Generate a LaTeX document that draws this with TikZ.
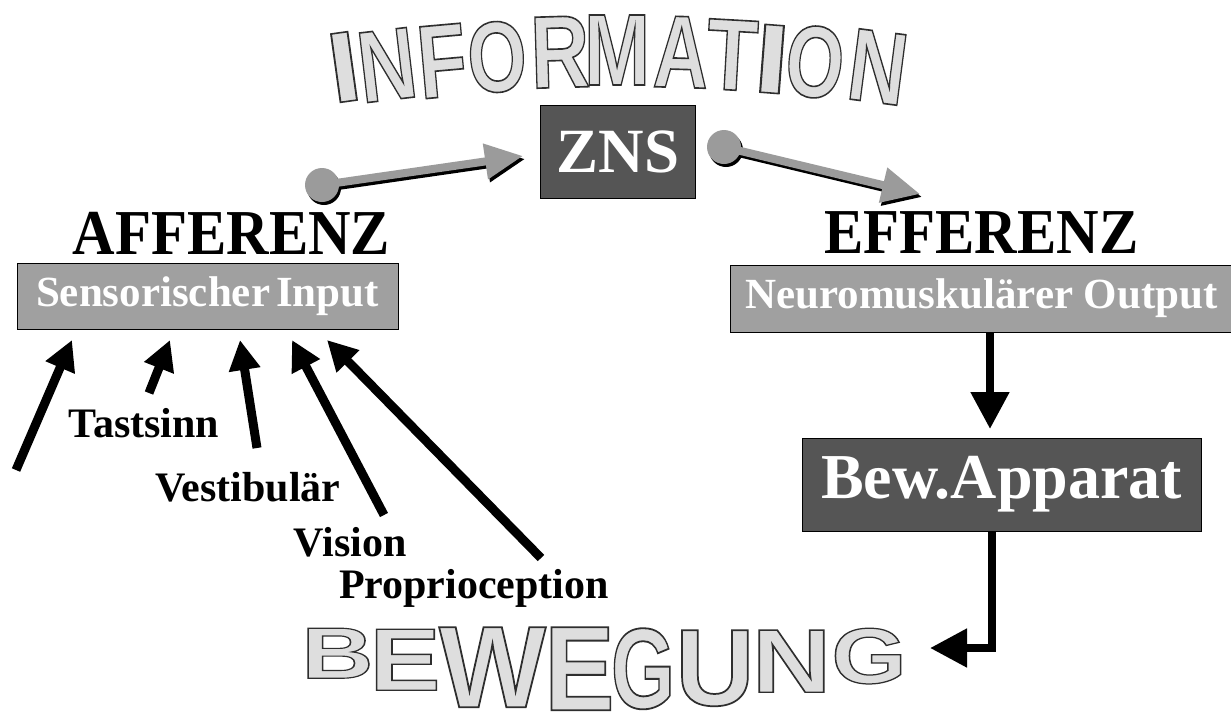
\documentclass[tikz,border=0pt]{standalone}
\usepackage{fontspec}
\setmainfont{Liberation Serif}
\setsansfont{Liberation Sans}
\usetikzlibrary{arrows.meta}
\definecolor{wafill}{RGB}{222,222,222}
\definecolor{boxgray}{RGB}{160,160,160}
\definecolor{darkbg}{RGB}{85,85,85}
\definecolor{arrowgray}{RGB}{155,155,155}
% outlined letter: light fill, dark stroke (PDF text render mode 2)
\newcommand\walet[3]{\resizebox{#2pt}{#3pt}{\color{wafill}\special{pdf:literal direct 0.18 G 1.5 w 2 Tr}#1\special{pdf:literal direct 0 Tr}}}
\tikzset{
  blk/.style={line width=9pt, -{Triangle[length=30pt,width=30pt]}},
  blkbig/.style={line width=8pt, -{Triangle[length=37pt,width=37pt]}},
  garrow/.style={line width=8pt, draw=arrowgray, -{Triangle[length=38pt,width=34pt]}},
  gshadow/.style={line width=8pt, draw=black, -{Triangle[length=38pt,width=34pt]}},
  ball/.style={circle, fill=arrowgray, minimum size=34pt, inner sep=0pt},
  ballshadow/.style={circle, fill=black, minimum size=34pt, inner sep=0pt},
  greybox/.style={draw=black, line width=0.8pt, fill=boxgray, text=white, font=\fontsize{43}{43}\selectfont\bfseries, inner sep=0pt},
  darkbox/.style={draw=black, line width=0.8pt, fill=darkbg, text=white, inner sep=0pt},
  lbl/.style={font=\fontsize{42}{42}\selectfont\bfseries, inner sep=0pt},
  ttl/.style={font=\fontsize{64}{64}\selectfont\bfseries, inner sep=0pt},
  wa/.style={inner sep=0pt, font=\fontsize{95}{95}\selectfont\sffamily\bfseries},
}
\begin{document}
\begin{tikzpicture}[x=1pt,y=-1pt]
\useasboundingbox[fill=white] (0,0) rectangle (1231,713);

% INFORMATION (arched outlined letters)
\foreach \ch/\cx/\cy/\w/\h [count=\i] in {I/344/67/32/69, N/387/65/58/70, F/442/61/49/72, O/497/57/59/70, R/560/52/59/71, M/617/50/66/70, A/681/52/55/71, T/732/55/51/70, I/772/59/36/68, O/815/62/58/71, N/878/67/58/71}{
  \pgfmathsetmacro\ang{asin((\cx-620)/2000)}
  \node[wa, rotate=-\ang] (info\i) at (\cx,\cy) {\walet{\ch}{\w}{\h}};
}

% BEWEGUNG (outlined letters, bottoms bulging)
\foreach \ch/\cx/\top/\w/\h [count=\i] in {B/337.5/628/72/50, E/405/629/71/61, W/492.5/627/107/80, E/579.5/627/70/83, G/643/628/64/80, U/715/630/79/75, N/791.5/630/79/62, G/869/628/75/55}{
  \node[wa, anchor=north] (bewg\i) at (\cx,\top) {\walet{\ch}{\w}{\h}};
}

% ZNS
\node[darkbox, minimum width=155pt, minimum height=93pt, font=\fontsize{63}{63}\selectfont\bfseries] (zns) at (618,151.5) {ZNS};

% grey arrows with balls
\coordinate (gt1) at (523,156);
\coordinate (gb1) at (322,185);
\coordinate (gt2) at (920,194);
\coordinate (gb2) at (724,147);
\draw[gshadow] ([shift={(2,3)}]gb1) -- ([shift={(2,3)}]gt1);
\draw[gshadow] ([shift={(2,3)}]gb2) -- ([shift={(2,3)}]gt2);
\node[ballshadow] (bs1) at ([shift={(2,3)}]gb1) {};
\node[ballshadow] (bs2) at ([shift={(2,3)}]gb2) {};
\draw[garrow] (gb1) -- (gt1);
\draw[garrow] (gb2) -- (gt2);
\node[ball] (ball1) at (gb1) {};
\node[ball] (ball2) at (gb2) {};

% titles
\node[ttl] (aff) at (231.5,233) {\scalebox{0.92}[1]{AFFERENZ}};
\node[ttl] (eff) at (981.5,233) {\scalebox{0.92}[1]{EFFERENZ}};

% boxes
\node[greybox, minimum width=381pt, minimum height=66pt] (sens) at (207.5,296) {Sensorischer\hspace{6pt}Input};
\node[greybox, minimum width=503pt, minimum height=67pt] (neuro) at (981.5,298.5) {Neuromuskulärer Output};
\node[darkbox, minimum width=399pt, minimum height=93pt, font=\fontsize{64}{64}\selectfont\bfseries] (app) at (1001.5,484.5) {Bew.Apparat};

% labels
\node[lbl] (tast) at (144,423) {Tastsinn};
\node[lbl] (vest) at (248,487) {Vestibulär};
\node[lbl] (vis) at (350,542) {Vision};
\node[lbl] (prop) at (474,588) {Proprioception};

% black input arrows
\coordinate (a1s) at (16,470);  \coordinate (a1e) at (72,340);
\coordinate (a2s) at (149,393); \coordinate (a2e) at (170,340);
\coordinate (a3s) at (257,448); \coordinate (a3e) at (240,340);
\coordinate (a4s) at (384,515); \coordinate (a4e) at (292,340);
\coordinate (a5s) at (541,558); \coordinate (a5e) at (327,340);
\draw[blk] (a1s) -- (a1e);
\draw[blk] (a2s) -- (a2e);
\draw[blk] (a3s) -- (a3e);
\draw[blk] (a4s) -- (a4e);
\draw[blk] (a5s) -- (a5e);

% output arrows
\coordinate (d1s) at (990,332); \coordinate (d1e) at (990,429);
\draw[blkbig] (d1s) -- (d1e);
\coordinate (d2s) at (992,531); \coordinate (d2c) at (992,648); \coordinate (d2e) at (930,648);
\draw[blkbig] (d2s) -- (d2c) -- (d2e);
\end{tikzpicture}
\end{document}
